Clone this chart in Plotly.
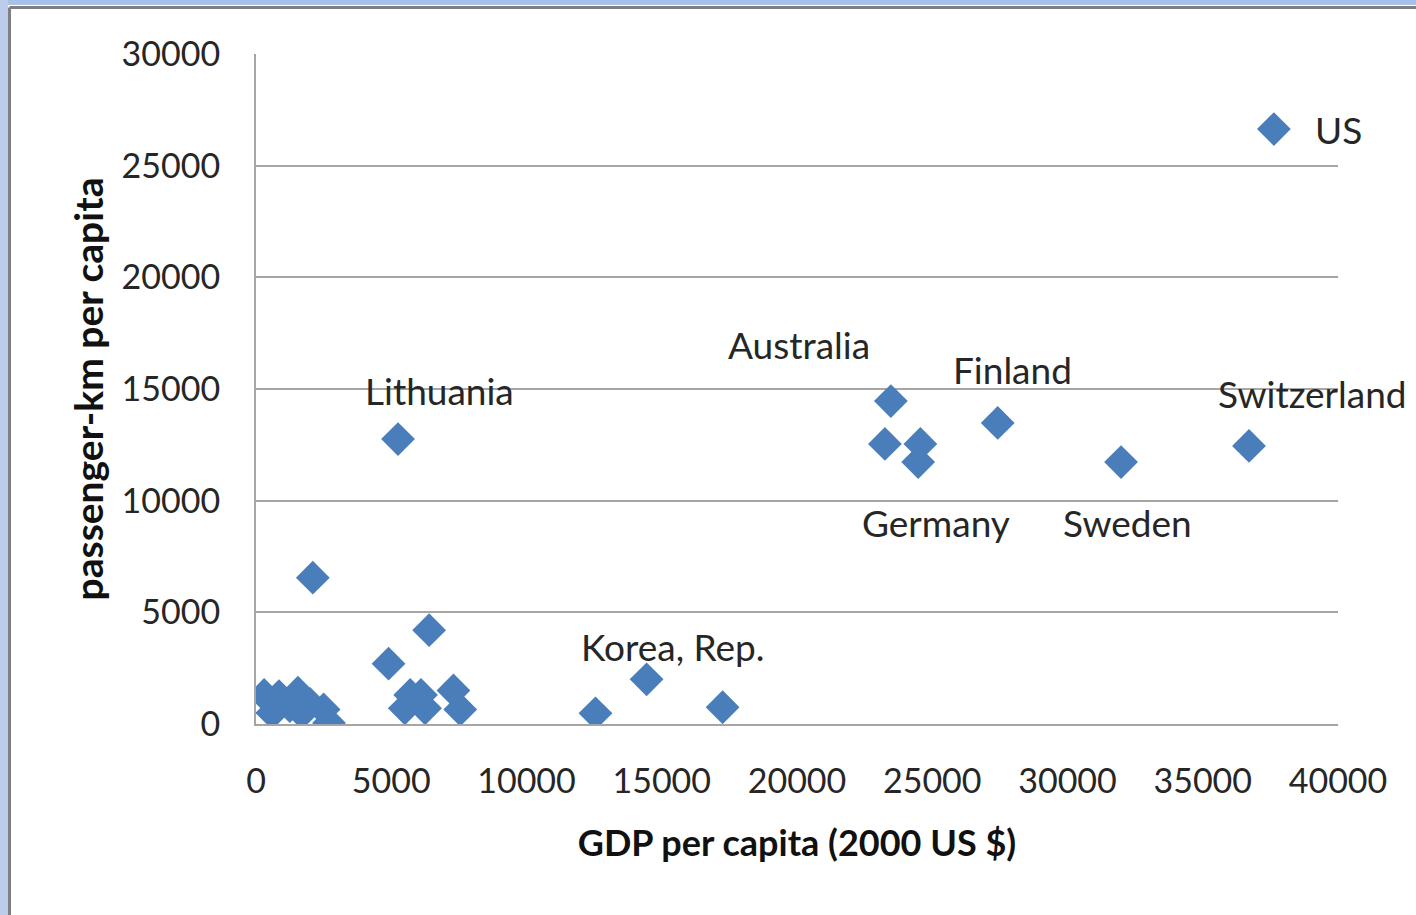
import plotly.graph_objects as go

# GDP per capita (2000 US $) and passenger-km per capita
gdp = [300, 600, 850, 1250, 1550, 1700, 2000, 2500, 2700, 2100,
       4900, 6400, 5700, 6100, 5500, 6250, 7300, 7550, 5250,
       12550, 14440, 17250,
       23470, 23250, 24560, 24480, 27420, 31980, 36710, 37630]
pkm = [1300, 500, 1250, 800, 1400, 500, 900, 650, 50, 6550,
       2700, 4200, 1300, 1300, 700, 700, 1500, 650, 12760,
       480, 2000, 750,
       14460, 12540, 12540, 11730, 13480, 11730, 12450, 26640]
# labels for named countries (index into the arrays above)
label_names = ["US", "Switzerland", "Sweden", "Germany", "Finland",
               "Australia", "Lithuania", "Korea, Rep."]
label_index = [29, 28, 27, 25, 26, 22, 18, 20]

x_ticks = [0, 5000, 10000, 15000, 20000, 25000, 30000, 35000, 40000]
y_ticks = [0, 5000, 10000, 15000, 20000, 25000, 30000]

# label offsets in pixels (style / position, not data)
label_offsets = {
    "US": (39, 0, "left"),
    "Switzerland": (63, 52, "center"),
    "Sweden": (6, -60, "center"),
    "Germany": (18, -60, "center"),
    "Finland": (15, 53, "center"),
    "Australia": (-92, 57, "center"),
    "Lithuania": (41, 49, "center"),
    "Korea, Rep.": (26, 33, "center"),
}

FONT = "Lato, 'Noto Sans', sans-serif"
TXT = "#262626"
GRID = "#a6a6a6"

fig = go.Figure()
fig.add_trace(go.Scatter(
    x=gdp, y=pkm, mode="markers",
    marker=dict(symbol="diamond", size=26, color="#4a7ebb",
                line=dict(width=0)),
    showlegend=False, hoverinfo="x+y",
))

annotations = []
for name, idx in zip(label_names, label_index):
    dx, dy, anchor = label_offsets[name]
    annotations.append(dict(
        x=gdp[idx], y=pkm[idx], xref="x", yref="y", text=name,
        showarrow=False, xshift=dx, yshift=dy, xanchor=anchor,
        yanchor="middle", font=dict(family=FONT, size=37, color=TXT),
    ))

fig.update_layout(
    width=1416, height=915,
    margin=dict(l=256, r=78, t=54, b=191, autoexpand=False),
    paper_bgcolor="white", plot_bgcolor="white",
    font=dict(family=FONT, size=34, color=TXT),
    annotations=annotations,
    xaxis=dict(
        range=[0, 40000], tickvals=x_ticks, tickformat="d",
        showgrid=False, zeroline=False,
        showline=True, linecolor=GRID, linewidth=2,
        ticks="outside", ticklen=26, tickcolor="rgba(0,0,0,0)",
        tickfont=dict(family=FONT, size=34, color=TXT),
        title=dict(text="<b>GDP per capita (2000 US $)</b>", standoff=32,
                   font=dict(family=FONT, size=36, color="#111111")),
        fixedrange=True,
    ),
    yaxis=dict(
        range=[0, 30000], tickvals=y_ticks, tickformat="d",
        showgrid=True, gridcolor=GRID, gridwidth=2,
        zeroline=False,
        showline=True, linecolor=GRID, linewidth=2,
        ticks="outside", ticklen=27, tickcolor="rgba(0,0,0,0)",
        tickfont=dict(family=FONT, size=34, color=TXT),
        title=dict(text="<b>passenger-km per capita</b>", standoff=6,
                   font=dict(family=FONT, size=39, color="#111111")),
        fixedrange=True,
    ),
    shapes=[
        # window frame: blue bands and grey border (paper coordinates)
        dict(type="rect", xref="paper", yref="paper",
             x0=-0.25, x1=1.1, y0=1.0731, y1=1.09,
             fillcolor="#a9c1e6", line=dict(width=0), layer="above"),
        dict(type="rect", xref="paper", yref="paper",
             x0=-0.25, x1=-0.2292, y0=-0.3, y1=1.09,
             fillcolor="#bccdeb", line=dict(width=0), layer="above"),
        dict(type="line", xref="paper", yref="paper",
             x0=-0.2278, x1=1.1, y0=1.0694, y1=1.0694,
             line=dict(color="#7f7f7f", width=3), layer="above"),
        dict(type="line", xref="paper", yref="paper",
             x0=-0.2278, x1=-0.2278, y0=-0.3, y1=1.0694,
             line=dict(color="#7f7f7f", width=3), layer="above"),
    ],
)

fig.write_html("out.html")
